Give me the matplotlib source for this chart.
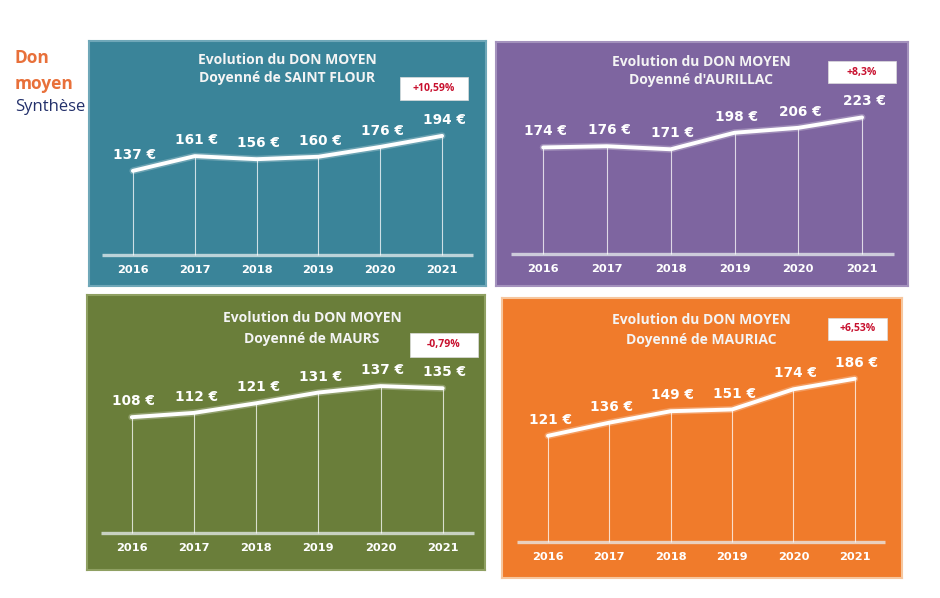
import matplotlib
matplotlib.use("Agg")
import matplotlib.pyplot as plt
from matplotlib.patches import Rectangle
import matplotlib.patheffects as pe

# ---------------- data ----------------
years = ["2016", "2017", "2018", "2019", "2020", "2021"]
titles = ["Doyenné de SAINT FLOUR", "Doyenné d'AURILLAC", "Doyenné de MAURS", "Doyenné de MAURIAC"]
saint_flour = [137, 161, 156, 160, 176, 194]
aurillac = [174, 176, 171, 198, 206, 223]
maurs = [108, 112, 121, 131, 137, 135]
mauriac = [121, 136, 149, 151, 174, 186]
badges = ["+10,59%", "+8,3%", "-0,79%", "+6,53%"]
series = [saint_flour, aurillac, maurs, mauriac]

# ---------------- layout (pixels) ----------------
W, H = 940, 598
panel_rects = [(89, 41, 486, 286), (496, 42, 908, 286), (87, 295, 485, 570), (502, 298, 902, 578)]
panel_colors = ["#3A8499", "#7E65A0", "#6A7E3A", "#F07B2B"]
edge_colors = ["#6FA7B8", "#A492BD", "#8FA062", "#F6C69E"]
xlims = [(-0.71, 5.71), (-0.74, 5.72), (-0.72, 5.68), (-0.75, 5.77)]
ylims = [(-50.5, 348.5), (-52, 346), (-34.6, 222), (-41, 278)]
title_pos = [(287, 60, 78), (701, 62, 80), (312, 318, 339), (701, 320, 340)]
badge_rects = [(400, 77, 468, 100), (828, 61, 896, 83), (410, 333, 478, 357), (828, 318, 887, 340)]

fig = plt.figure(figsize=(W / 100, H / 100), dpi=100)
fig.patch.set_facecolor("white")


def fx(x):
    return x / W


def fy(y):
    return 1 - y / H


TITLE_FONT = "Open Sans"
NUM_FONT = "DejaVu Sans"

for k in range(4):
    x0, y0, x1, y1 = panel_rects[k]
    ax = fig.add_axes([fx(x0), fy(y1), (x1 - x0) / W, (y1 - y0) / H])
    ax.set_facecolor(panel_colors[k])
    for s in ax.spines.values():
        s.set_visible(True)
        s.set_color(edge_colors[k])
        s.set_linewidth(1.5)
    ax.set_xticks([])
    ax.set_yticks([])
    ax.set_xlim(*xlims[k])
    ax.set_ylim(*ylims[k])
    vals = series[k]
    xs = list(range(len(years)))
    # baseline
    ax.hlines(0, -0.5, len(years) - 0.5, color="#E8EEF0", lw=2.4, alpha=0.75, zorder=2)
    # drop lines
    ax.vlines(xs, 0, vals, color="white", lw=0.8, alpha=0.75, zorder=2)
    # main line
    ax.plot(xs, vals, color="white", lw=2.8, solid_capstyle="round", zorder=4,
            path_effects=[pe.Stroke(linewidth=5, foreground="white", alpha=0.25), pe.Normal()])
    for i, v in enumerate(vals):
        ax.annotate(f"{v} €", (i, v), xytext=(1.5, 11.5), textcoords="offset points",
                    ha="center", va="center", color="white", fontsize=9.8,
                    fontweight="bold", family=NUM_FONT, zorder=5)
        ax.annotate(years[i], (i, 0), xytext=(0, -11), textcoords="offset points",
                    ha="center", va="center", color="white", fontsize=8.2,
                    fontweight="bold", family=NUM_FONT, zorder=5)
    # titles
    cx, t1, t2 = title_pos[k]
    fig.text(fx(cx), fy(t1), "Evolution du DON MOYEN", ha="center", va="center",
             color="#F4F4F4", fontsize=10, fontweight="bold", family=TITLE_FONT)
    fig.text(fx(cx), fy(t2), titles[k], ha="center", va="center",
             color="#F4F4F4", fontsize=10, fontweight="bold", family=TITLE_FONT)
    # badge
    bx0, by0, bx1, by1 = badge_rects[k]
    fig.patches.append(Rectangle((fx(bx0), fy(by1)), (bx1 - bx0) / W, (by1 - by0) / H,
                                 transform=fig.transFigure, facecolor="white",
                                 edgecolor="#DDDDDD", lw=0.5, zorder=10))
    fig.text(fx((bx0 + bx1) / 2), fy((by0 + by1) / 2), badges[k], ha="center", va="center",
             color="#C8102E", fontsize=7.5, fontweight="bold", family=TITLE_FONT, zorder=11)

# header text
fig.text(fx(15), fy(58), "Don", ha="left", va="center", color="#E8703A",
         fontsize=12.5, fontweight="bold", family=TITLE_FONT)
fig.text(fx(15), fy(84), "moyen", ha="left", va="center", color="#E8703A",
         fontsize=12.5, fontweight="bold", family=TITLE_FONT)
fig.text(fx(15), fy(107), "Synthèse", ha="left", va="center", color="#23306B",
         fontsize=12, family=TITLE_FONT)

fig.savefig("out.png", dpi=100, facecolor="white")
